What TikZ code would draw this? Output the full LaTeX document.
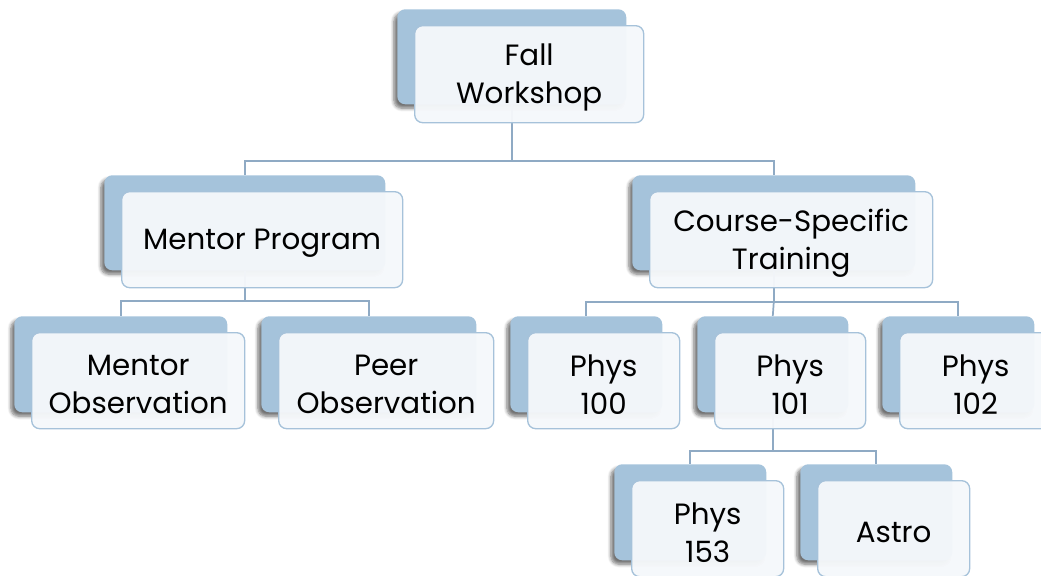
\documentclass[tikz,border=0pt]{standalone}
\usepackage{fontspec}
\setmainfont{Poppins}
\usetikzlibrary{shadows.blur}
\definecolor{backfill}{HTML}{A5C3DB}
\definecolor{frontline}{HTML}{A6C2DA}
\definecolor{frontfill}{HTML}{F5F8FB}
\definecolor{linkline}{HTML}{8FAAC4}
\tikzset{
  backbox/.style={draw=none, fill=backfill, rounded corners=6pt, anchor=north west,
    blur shadow={shadow xshift=-2.5pt, shadow yshift=-3pt, shadow opacity=55,
                 shadow blur steps=6, shadow blur radius=2.5pt}},
  frontbox/.style={draw=frontline, line width=1pt, fill=frontfill, fill opacity=0.96,
    rounded corners=6pt, anchor=north west, inner sep=0pt},
  cardtext/.style={align=center, font=\fontsize{22}{28.5}\selectfont, inner sep=0pt},
  link/.style={draw=linkline, line width=1.3pt}
}
% back card of a unit: name, left, top, width, height
\newcommand\cardback[5]{%
  \node[backbox, minimum width=#4*0.75pt, minimum height=#5*0.75pt] (#1b) at (#2,#3) {};}
% front card of a unit with its label: name, left, top, width, height, label
\newcommand\cardfront[6]{%
  \node[frontbox, minimum width=#4*0.75pt, minimum height=#5*0.75pt] (#1) at (#2+17,#3+16) {};
  \node[cardtext] (#1t) at ([yshift=-2.8pt]#1.center) {#6};}
\begin{document}
\begin{tikzpicture}[x=0.75pt, y=-0.75pt]
\useasboundingbox (0,0) rectangle (1041,575);
\clip (0,0) rectangle (1041,575);

% back cards
\cardback{fw}{397}{9}{229}{95}
\cardback{mp}{104}{175}{281}{95}
\cardback{ct}{632}{175}{283}{95}
\cardback{mo}{14}{316}{213}{96}
\cardback{po}{261}{316}{215}{96}
\cardback{pa}{510}{316}{152}{96}
\cardback{pb}{697}{316}{151}{96}
\cardback{pc}{882}{316}{152}{96}
\cardback{pd}{614}{464}{152}{96}
\cardback{as}{800}{464}{152}{96}

% junctions of the tree
\coordinate (j1) at (fwb.south |- 0,161);
\coordinate (j2) at (mpb.south |- 0,301);
\coordinate (j3) at (ctb.south |- 0,302);
\coordinate (j4) at (pbb.south |- 0,451);

% connectors
\draw[link] (fwb.south) -- (j1);
\draw[link] (j1) -| (mpb.north);
\draw[link] (j1) -| (ctb.north);
\draw[link] (mpb.south) -- (j2);
\draw[link] (j2) -| (mob.north);
\draw[link] (j2) -| (pob.north);
\draw[link] (ctb.south) -- (j3);
\draw[link] (j3) -| (pab.north);
\draw[link] (j3) -- (pbb.north);
\draw[link] (j3) -| (pcb.north);
\draw[link] (pbb.south) -- (j4);
\draw[link] (j4) -| (pdb.north);
\draw[link] (j4) -| (asb.north);

% front cards
\cardfront{fwf}{397}{9}{229}{97}{Fall\\Workshop}
\cardfront{mpf}{104}{175}{281}{96}{Mentor Program}
\cardfront{ctf}{632}{175}{283}{96}{Course-Specific\\Training}
\cardfront{mof}{14}{316}{213}{96}{Mentor\\Observation}
\cardfront{pof}{261}{316}{215}{96}{Peer\\Observation}
\cardfront{paf}{510}{316}{152}{96}{Phys\\100}
\cardfront{pbf}{697}{316}{151}{96}{Phys\\101}
\cardfront{pcf}{882}{316}{152}{96}{Phys\\102}
\cardfront{pdf}{614}{464}{152}{96}{Phys\\153}
\cardfront{asf}{800}{464}{152}{96}{Astro}
\end{tikzpicture}
\end{document}
